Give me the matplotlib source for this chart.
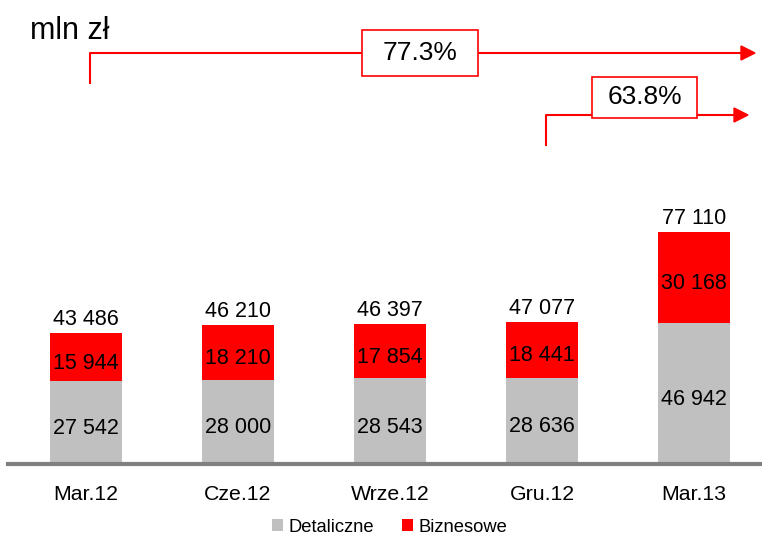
import matplotlib.pyplot as plt
from matplotlib.patches import Rectangle

plt.rcParams['font.family'] = ['Liberation Sans', 'DejaVu Sans']

categories = ['Mar.12', 'Cze.12', 'Wrze.12', 'Gru.12', 'Mar.13']
detaliczne = [27542, 28000, 28543, 28636, 46942]
biznesowe = [15944, 18210, 17854, 18441, 30168]
totals = [43486, 46210, 46397, 47077, 77110]
growth_labels = ['77.3%', '63.8%']

GRAY = '#c0c0c0'
RED = '#ff0000'
W, H = 762, 536


def fmt(v):
    return f'{v:,}'.replace(',', ' ')


def px(x, y):
    # pixel coords (from top-left) -> figure fraction
    return x / W, 1 - y / H


fig = plt.figure(figsize=(W / 100, H / 100), dpi=100)
ax = fig.add_axes([8 / W, 1 - 464 / H, 1 - 8 / W, 464 / H])
ax.set_xlim(-0.513, 4.447)
ax.set_ylim(0, 154000)

x = range(len(categories))
ax.bar(x, detaliczne, width=0.47, color=GRAY, label='Detaliczne')
ax.bar(x, biznesowe, width=0.47, bottom=detaliczne, color=RED, label='Biznesowe')

for i in x:
    d, b, t = detaliczne[i], biznesowe[i], totals[i]
    ax.text(i, d / 2 - 2000, fmt(d), ha='center', va='center', fontsize=15.5)
    ax.text(i, d + b / 2 - 2000, fmt(b), ha='center', va='center', fontsize=15.5)
    ax.text(i, t + 1000, fmt(t), ha='center', va='bottom', fontsize=15.5)

for s in ['top', 'right', 'left']:
    ax.spines[s].set_visible(False)
ax.spines['bottom'].set_color('#808080')
ax.spines['bottom'].set_linewidth(3)
ax.set_yticks([])
ax.set_xticks(list(x))
ax.set_xticklabels(categories, fontsize=15.3)
ax.tick_params(axis='x', length=0, pad=15)

fig.text(*px(30, 31), 'mln zł', fontsize=22, ha='left', va='center')


def growth_arrow(x0, y0, y1, x1, box, label):
    fig.add_artist(plt.Line2D(*zip(px(x0, y0), px(x0, y1), px(x1 - 12, y1)),
                              color=RED, lw=1.5, transform=fig.transFigure, zorder=1))
    fig.add_artist(plt.Polygon([px(x1 - 14, y1 - 7), px(x1, y1), px(x1 - 14, y1 + 7)],
                               closed=True, color=RED, transform=fig.transFigure, zorder=1))
    bx0, by0, bx1, by1 = box
    fx0, fy1 = px(bx0, by0)
    fx1, fy0 = px(bx1, by1)
    fig.add_artist(Rectangle((fx0, fy0), fx1 - fx0, fy1 - fy0, facecolor='white',
                             edgecolor=RED, lw=1.2, transform=fig.transFigure, zorder=2))
    fig.text((fx0 + fx1) / 2, (fy0 + fy1) / 2, label, ha='center', va='center',
             fontsize=19, zorder=3)


growth_arrow(90, 83, 53, 755, (362, 30, 478, 76), growth_labels[0])
growth_arrow(546, 145, 115, 748, (592, 77, 697, 118), growth_labels[1])

fig.legend(loc='center', bbox_to_anchor=px(390, 527), ncol=2, frameon=False,
           fontsize=13.2, handlelength=0.6, handleheight=0.6, handletextpad=0.3,
           columnspacing=1.5, borderaxespad=0)

fig.savefig('out.png', dpi=100)
